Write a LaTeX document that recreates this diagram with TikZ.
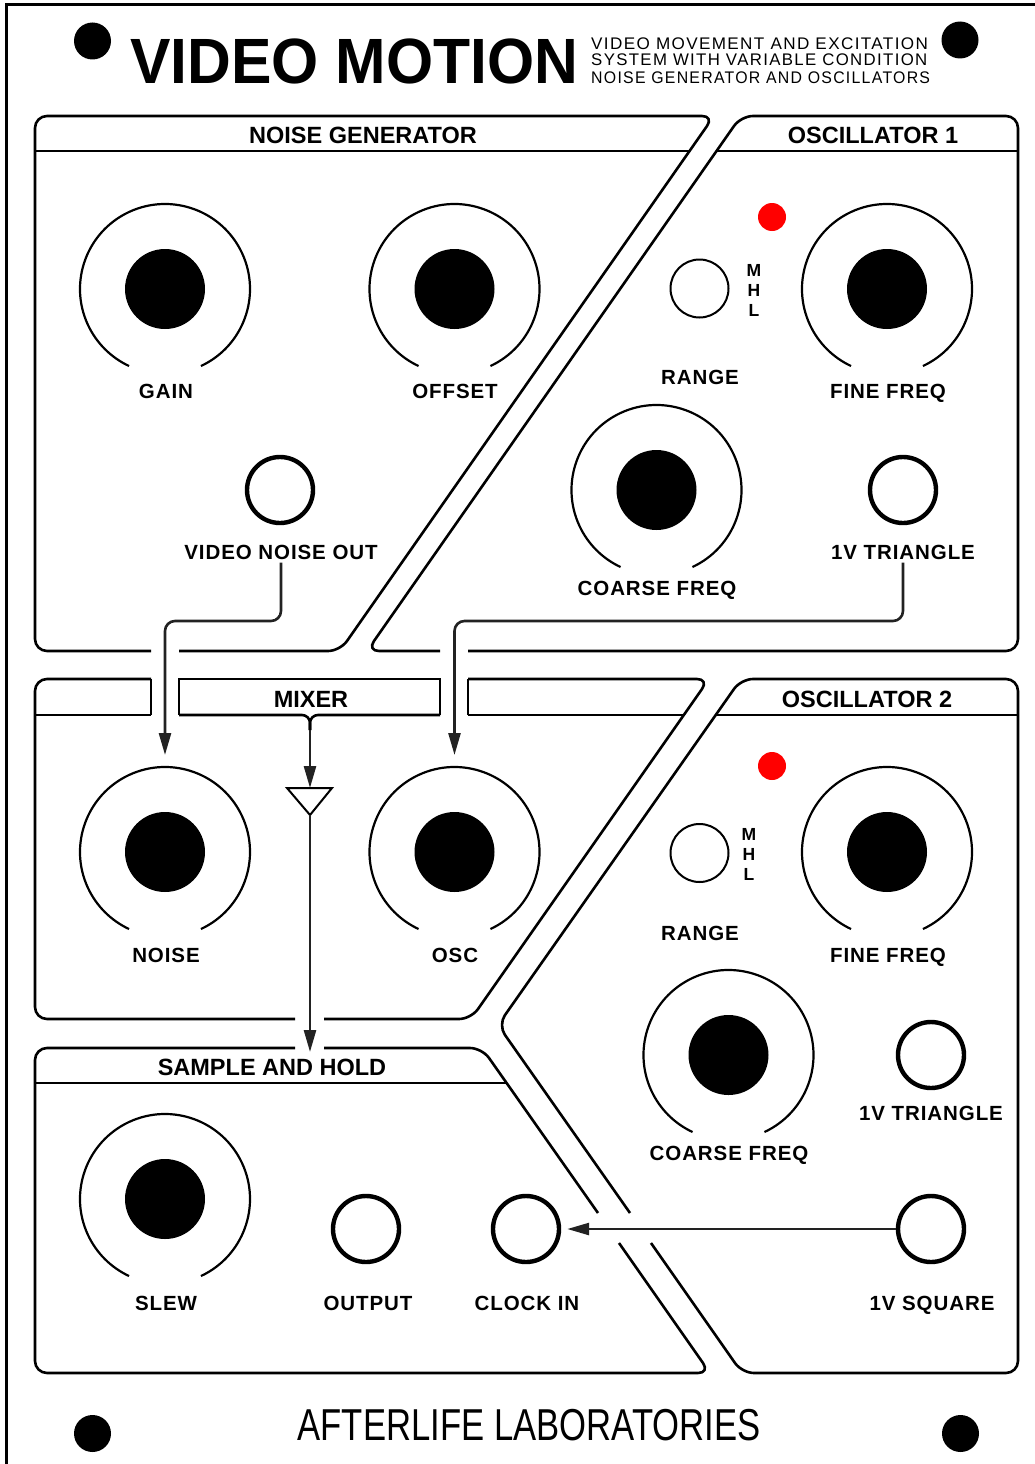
\documentclass[tikz,border=0pt]{standalone}
\usepackage{fontspec}
\setmainfont{Liberation Sans}
\usetikzlibrary{arrows.meta}
\definecolor{ledred}{HTML}{FF0000}
\definecolor{wiregray}{HTML}{222222}
\newfontfamily\labelfont[LetterSpace=4.5]{Liberation Sans}
\newfontfamily\subfont[LetterSpace=8]{Liberation Sans}

% knob: invisible ring node, black cap, open arc
\newcommand{\knobat}[2]{%
  \node[knob] (#1) at (#2) {};
  \fill (#1) circle[radius=40pt];
  \draw[ring] (#1.-65) arc[start angle=-65, end angle=245, radius=85pt];}

\begin{document}
\begin{tikzpicture}[
    x=1pt, y=-1pt,
    panel/.style={line width=2.6pt, line join=round, rounded corners=12pt},
    edge/.style={line width=2.6pt},
    ring/.style={line width=2.2pt},
    knob/.style={circle, minimum size=170pt, inner sep=0pt, outer sep=0pt},
    jack/.style={circle, draw, line width=4.4pt, minimum size=66pt, inner sep=0pt},
    switch/.style={circle, draw, line width=2pt, minimum size=58pt, inner sep=0pt},
    led/.style={circle, fill=ledred, minimum size=28pt, inner sep=0pt},
    hole/.style={circle, fill=black, minimum size=37pt, inner sep=0pt},
    lbl/.style={font=\labelfont\fontsize{20.5}{20.5}\selectfont\bfseries, anchor=base},
    head/.style={font=\fontsize{23.5}{23.5}\selectfont\bfseries, anchor=base},
    mhl/.style={font=\fontsize{17.5}{17.5}\selectfont\bfseries, anchor=base, inner sep=0pt},
    subline/.style={anchor=base west, inner sep=0pt, font=\subfont\fontsize{16.8}{16.8}\selectfont},
    wire/.style={line width=2.6pt, color=wiregray, rounded corners=10pt, -{Triangle[length=22pt, width=12pt]}}
]
\useasboundingbox (0,0) rectangle (1035,1464);

% frame and mounting holes
\draw[line width=3pt] (1035,5) -- (6.5,5) -- (6.5,1464);
\node[hole] (holetl) at (92.5,41) {};
\node[hole] (holetr) at (960,40) {};
\node[hole] (holebl) at (92.5,1433.5) {};
\node[hole] (holebr) at (960.5,1433.5) {};

% title block
\node[anchor=base west, inner sep=0pt, font=\fontsize{64}{64}\selectfont\bfseries] (title) at (130,84) {\scalebox{0.947}[1]{VIDEO MOTION}};
\node[subline] (sub1) at (591,49) {\scalebox{1.018}[1]{VIDEO MOVEMENT AND EXCITATION}};
\node[subline] (sub2) at (591,66) {SYSTEM WITH VARIABLE CONDITION};
\node[subline] (sub3) at (591,83) {\scalebox{0.944}[1]{NOISE GENERATOR AND OSCILLATORS}};
\node[anchor=base, inner sep=0pt, font=\fontsize{44.7}{44.7}\selectfont] (maker) at (529,1440) {\scalebox{0.775}[1]{AFTERLIFE LABORATORIES}};

% noise generator
\draw[panel] (151,651) -- (35,651) -- (35,116) -- (714,116) -- (340,651) -- (179,651);
\draw[edge] (35,151) -- (689.5,151);
\node[head] (noisehead) at (363,143) {NOISE GENERATOR};

% oscillator 1
\draw[panel] (440,651) -- (367,651) -- (741,116) -- (1018,116) -- (1018,651) -- (468,651);
\draw[edge] (716.5,151) -- (1018,151);
\node[head] (osc1head) at (873,143) {OSCILLATOR 1};

% mixer
\draw[edge] (151,715) -- (151,679);
\draw[panel] (151,679) -- (35,679) -- (35,1019) -- (295,1019);
\draw[edge] (35,715) -- (151,715);
\draw[edge] (179,715) |- (440,679) -- (440,715);
\draw[panel, rounded corners=8pt] (179,715) -- (310,715) -- (310,730);
\draw[panel, rounded corners=8pt] (440,715) -- (310,715) -- (310,730);
\draw[edge] (468,715) -- (468,679);
\draw[panel] (468,679) -- (709,679) -- (471,1019) -- (324,1019);
\draw[edge] (468,715) -- (684,715);
\node[head] (mixhead) at (311,707) {MIXER};

% oscillator 2
\draw[panel] (630,1213) -- (498,1025) -- (741,679) -- (1018,679) -- (1018,1373) -- (742,1373) -- (651,1243);
\draw[edge] (715.7,715) -- (1018,715);
\node[head] (osc2head) at (867,707) {OSCILLATOR 2};

% sample and hold
\draw[panel] (295,1048) -- (35,1048) -- (35,1373) -- (710,1373) -- (619,1243);
\draw[panel] (598,1213) -- (482,1048) -- (324,1048);
\draw[edge] (35,1083) -- (506.6,1083);
\node[head] (shhead) at (272,1075) {SAMPLE AND HOLD};

% knobs
\knobat{gain}{165,289}
\knobat{offset}{454.5,289}
\knobat{fine1}{887,289}
\knobat{coarse1}{656.5,490}
\knobat{noise}{165,852}
\knobat{osc}{454.5,852}
\knobat{fine2}{887,852}
\knobat{coarse2}{728.5,1055}
\knobat{slew}{165,1199}

% jacks, switches, leds
\node[jack] (noiseout) at (280,490) {};
\node[jack] (tri1) at (903,490) {};
\node[jack] (tri2) at (931,1055) {};
\node[jack] (output) at (366,1229) {};
\node[jack] (clockin) at (526,1229) {};
\node[jack] (square) at (931,1229) {};
\node[switch] (range1) at (699.5,288.5) {};
\node[switch] (range2) at (699.5,853) {};
\node[led] (led1) at (772,217) {};
\node[led] (led2) at (772,766) {};

\node[mhl] (range1m) at (754,276) {M};
\node[mhl] (range1h) at (754,296) {H};
\node[mhl] (range1l) at (754,316) {L};
\node[mhl] (range2m) at (749,840) {M};
\node[mhl] (range2h) at (749,860) {H};
\node[mhl] (range2l) at (749,880) {L};

% labels
\node[lbl] (gainlbl) at (166,398) {GAIN};
\node[lbl] (offsetlbl) at (455,398) {OFFSET};
\node[lbl] (fine1lbl) at (888,398) {FINE FREQ};
\node[lbl] (range1lbl) at (700,384) {RANGE};
\node[lbl] (noiseoutlbl) at (281,559) {VIDEO NOISE OUT};
\node[lbl] (tri1lbl) at (903,559) {1V TRIANGLE};
\node[lbl] (coarse1lbl) at (657,595) {COARSE FREQ};
\node[lbl] (noiselbl) at (166,962) {NOISE};
\node[lbl] (osclbl) at (455,962) {OSC};
\node[lbl] (fine2lbl) at (888,962) {FINE FREQ};
\node[lbl] (range2lbl) at (700,940) {RANGE};
\node[lbl] (coarse2lbl) at (729,1160) {COARSE FREQ};
\node[lbl] (tri2lbl) at (931,1120) {1V TRIANGLE};
\node[lbl] (slewlbl) at (166,1310) {SLEW};
\node[lbl] (outputlbl) at (368,1310) {OUTPUT};
\node[lbl] (clockinlbl) at (527,1310) {CLOCK IN};
\node[lbl] (squarelbl) at (932,1310) {1V SQUARE};

% patch wires
\coordinate (nbend) at (165,621);
\coordinate (obend) at (454.5,621);
\coordinate (mixout) at (310,730);
\coordinate (buftop) at (310,788);
\coordinate (bufleft) at (287,788);
\coordinate (bufright) at (332,788);
\coordinate (bufapex) at (310,815);
\coordinate (shin) at (310,1052);

\draw[wire, shorten >=12pt] (noiseoutlbl.south) |- (nbend) -- (noise.north);
\draw[wire, shorten >=12pt] (tri1lbl.south) |- (obend) -- (osc.north);
\draw[wire] (mixout) -- (buftop);
\draw[line width=2pt] (bufleft) -- (bufright) -- (bufapex) -- cycle;
\draw[wire] (bufapex) -- (shin);
\draw[wire, shorten >=6pt] (square.west) -- (clockin.east);

\end{tikzpicture}
\end{document}
